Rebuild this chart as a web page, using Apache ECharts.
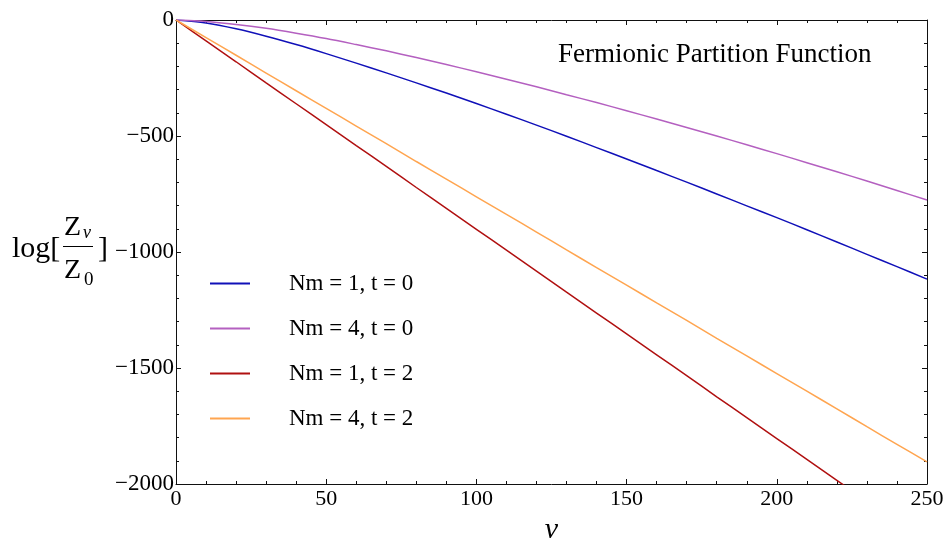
<!DOCTYPE html>
<html>
<head>
<meta charset="utf-8">
<script src="https://cdn.jsdelivr.net/npm/echarts@6/dist/echarts.min.js"></script>
<style>
  html, body { margin: 0; padding: 0; background: #fff; }
  #chart { width: 944px; height: 539px; }
</style>
</head>
<body>
<div id="chart"></div>
<script>
// nu values sampled every 10 steps
const nu = [0, 10, 20, 30, 40, 50, 60, 70, 80, 90, 100, 110, 120, 130, 140, 150, 160, 170, 180, 190, 200, 210, 220, 230, 240, 250];

// log(Z_nu / Z_0) for each parameter set
const nm1t0 = [0, -13, -38, -70, -106, -145, -186, -228, -271, -315, -360, -406, -453, -501, -550, -599, -649, -699, -750, -801, -852, -904, -957, -1010, -1063, -1117];
const nm4t0 = [0, -6, -19, -36, -57, -80, -106, -133, -162, -192, -223, -255, -288, -322, -356, -391, -427, -463, -500, -538, -576, -615, -654, -694, -735, -776];
const nm1t2 = [0, -90, -180, -271, -361, -451, -541, -631, -722, -812, -902, -992, -1082, -1173, -1263, -1353, -1443, -1533, -1624, -1714, -1804, -1894, -1984, -2075, -2165, -2255];
const nm4t2 = [0, -76, -152, -229, -305, -381, -457, -533, -610, -686, -762, -838, -914, -991, -1067, -1143, -1219, -1295, -1372, -1448, -1524, -1600, -1676, -1753, -1829, -1905];

const seriesNames = ['Nm = 1, t = 0', 'Nm = 4, t = 0', 'Nm = 1, t = 2', 'Nm = 4, t = 2'];
const seriesValues = [nm1t0, nm4t0, nm1t2, nm4t2];
const seriesColors = ['#1010b8', '#b460c0', '#b01010', '#ffa550'];

const xTicks = { min: 0, max: 250, step: 50 };
const yTicks = { min: -2000, max: 0, step: 500 };

const serif = '"Liberation Serif", "DejaVu Serif", serif';
const frameColor = '#111';

function pairs(xs, ys) {
  return xs.map((x, i) => [x, ys[i]]);
}

function valueAxis(extra) {
  return Object.assign({
    type: 'value',
    axisLine: { show: true, onZero: false, lineStyle: { color: frameColor, width: 1 } },
    axisTick: { show: true, inside: true, length: 5, lineStyle: { color: frameColor } },
    minorTick: { show: true, splitNumber: 5, length: 3, lineStyle: { color: frameColor } },
    splitLine: { show: false },
    minorSplitLine: { show: false }
  }, extra);
}

const chart = echarts.init(document.getElementById('chart'), null, { renderer: 'canvas' });

chart.setOption({
  animation: false,
  backgroundColor: '#fff',
  title: {
    text: 'Fermionic Partition Function',
    left: 553,
    top: 36,
    textStyle: { fontFamily: serif, fontSize: 27, fontWeight: 'normal', color: '#000' }
  },
  grid: {
    left: 176, right: 17, top: 20, bottom: 55,
    containLabel: false,
    outerBoundsMode: 'none'
  },
  legend: {
    orient: 'vertical',
    left: 205,
    top: 267,
    icon: 'rect',
    itemWidth: 40,
    itemHeight: 2,
    itemGap: 22,
    data: seriesNames,
    textStyle: {
      fontFamily: serif, fontSize: 23, color: '#000', lineHeight: 23,
      padding: [0, 0, 0, 34]
    }
  },
  xAxis: [
    valueAxis({
      position: 'bottom',
      min: xTicks.min, max: xTicks.max, interval: xTicks.step,
      name: 'ν',
      nameLocation: 'middle',
      nameGap: 28,
      nameTextStyle: { fontFamily: serif, fontSize: 30, fontStyle: 'italic', color: '#000' },
      axisLabel: { fontFamily: serif, fontSize: 22, color: '#000', margin: 4 }
    }),
    valueAxis({
      position: 'top',
      min: xTicks.min, max: xTicks.max, interval: xTicks.step,
      axisLabel: { show: false }
    })
  ],
  yAxis: [
    valueAxis({
      position: 'left',
      min: yTicks.min, max: yTicks.max, interval: yTicks.step,
      axisLabel: {
        fontFamily: serif, fontSize: 23, color: '#000', margin: 2,
        formatter: v => String(v).replace('-', '\u2212')
      }
    }),
    valueAxis({
      position: 'right',
      min: yTicks.min, max: yTicks.max, interval: yTicks.step,
      axisLabel: { show: false }
    })
  ],
  series: seriesNames.map((name, i) => ({
    name: name,
    type: 'line',
    xAxisIndex: 0,
    yAxisIndex: 0,
    data: pairs(nu, seriesValues[i]),
    symbol: 'none',
    smooth: 0.3,
    clip: true,
    color: seriesColors[i],
    itemStyle: { color: seriesColors[i] },
    lineStyle: { color: seriesColors[i], width: 1.5 }
  })),
  graphic: [
    // y-axis name: log[ Z_nu / Z_0 ]
    { type: 'text', left: 12, top: 234, style: { text: 'log[', font: '30px ' + serif, fill: '#000' } },
    { type: 'text', left: 64, top: 214, style: { text: 'Z', font: '28px ' + serif, fill: '#000' } },
    { type: 'text', left: 83, top: 224, style: { text: 'ν', font: 'italic 18px ' + serif, fill: '#000' } },
    { type: 'line', shape: { x1: 63, y1: 246.5, x2: 93, y2: 246.5 }, style: { stroke: '#000', lineWidth: 1 } },
    { type: 'text', left: 64, top: 257, style: { text: 'Z', font: '28px ' + serif, fill: '#000' } },
    { type: 'text', left: 84, top: 271, style: { text: '0', font: '19px ' + serif, fill: '#000' } },
    { type: 'text', left: 98, top: 234, style: { text: ']', font: '30px ' + serif, fill: '#000' } }
  ]
});
</script>
</body>
</html>
